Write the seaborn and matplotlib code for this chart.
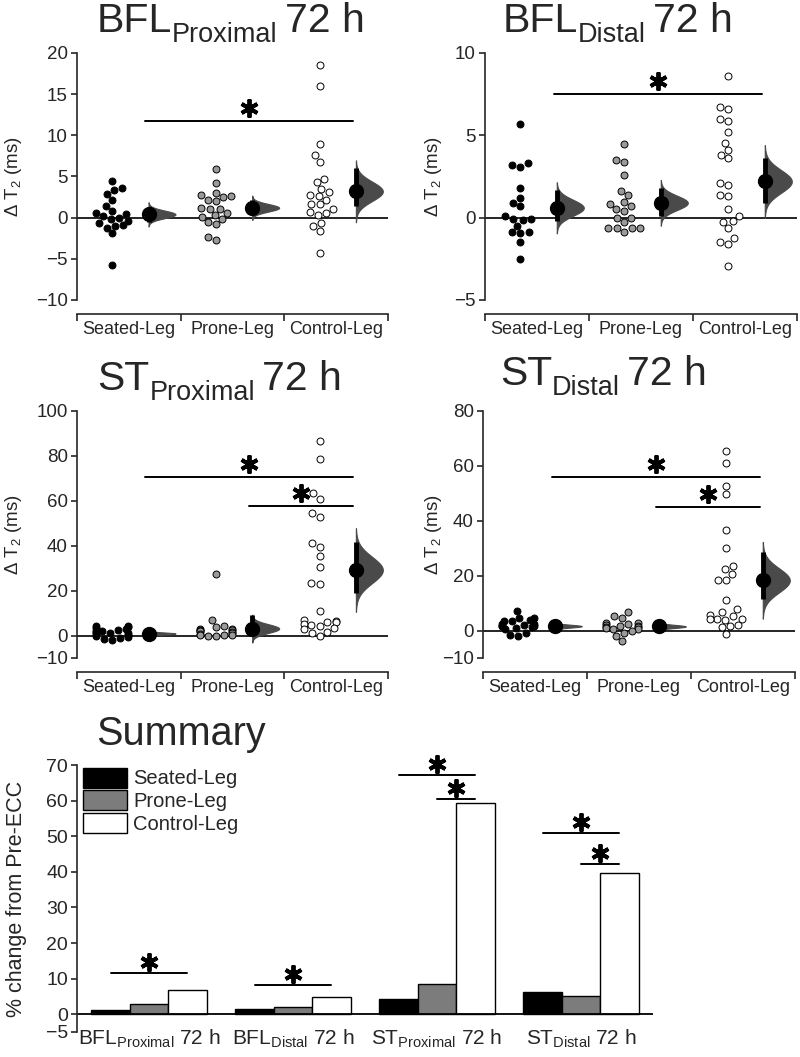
import numpy as np
import pandas as pd
import matplotlib
matplotlib.use('Agg')
import matplotlib.pyplot as plt
from matplotlib.transforms import offset_copy, IdentityTransform
import seaborn as sns

# groups and colours
groups = ['Seated-Leg', 'Prone-Leg', 'Control-Leg']
point_colors = ['black', '#9a9a9a', 'white']
bar_colors = ['black', '#7c7c7c', 'white']

# BFL proximal 72 h, delta T2 (ms)
bflp_seated = [4.4, 3.6, 3.4, 2.9, 2.2, 1.4, 0.8, 0.6, 0.5, 0.2, 0.0, -0.2, -0.4, -0.7, -0.9, -1.0, -1.2, -1.9, -5.7]
bflp_prone = [5.9, 4.2, 3.0, 2.8, 2.6, 2.5, 2.2, 2.0, 1.2, 1.1, 1.0, 0.6, 0.3, 0.1, -0.2, -0.5, -0.8, -2.4, -2.7]
bflp_control = [18.5, 16.0, 9.0, 7.6, 6.8, 4.7, 4.3, 3.5, 3.1, 2.8, 2.6, 2.2, 1.7, 1.6, 1.1, 0.7, 0.6, 0.3, -0.6, -1.0, -1.6, -4.3]
bflp_mean = [0.4, 1.2, 3.2]
bflp_ci_lo = [-0.5, 0.3, 1.4]
bflp_ci_hi = [1.3, 2.1, 6.0]
bflp_sig = [(0, 2, 11.7)]

# BFL distal 72 h
bfld_seated = [5.7, 3.3, 3.2, 3.1, 1.8, 1.2, 0.9, 0.7, 0.1, -0.1, -0.15, -0.1, -0.5, -0.9, -0.95, -0.9, -1.5, -2.5]
bfld_prone = [4.5, 3.5, 3.4, 2.6, 1.6, 1.35, 0.95, 0.85, 0.7, 0.55, 0.4, 0.0, 0.0, -0.25, -0.6, -0.65, -0.65, -0.65, -0.85]
bfld_control = [8.6, 6.7, 6.6, 6.0, 5.9, 5.2, 4.55, 4.1, 3.8, 3.6, 2.1, 2.0, 1.4, 1.3, 0.55, 0.1, -0.2, -0.25, -0.6, -1.25, -1.45, -1.6, -2.95]
bfld_mean = [0.6, 0.9, 2.2]
bfld_ci_lo = [-0.2, 0.1, 0.9]
bfld_ci_hi = [1.7, 1.8, 3.6]
bfld_sig = [(0, 2, 7.5)]

# ST proximal 72 h
stp_seated = [4.4, 4.1, 3.8, 3.4, 3.1, 2.6, 2.2, 1.9, 1.6, 1.2, 1.0, 0.5, 0.2, -0.3, -0.6, -1.0, -1.5, -2.2]
stp_prone = [27.4, 7.0, 4.1, 3.8, 2.9, 2.9, 2.6, 2.4, 1.9, 1.9, 1.5, 1.2, 0.9, 0.4, 0.4, 0.4, 0.0, 0.0]
stp_control = [86.5, 78.8, 63.3, 61.0, 54.7, 52.9, 41.0, 39.3, 35.6, 30.7, 23.6, 23.0, 11.1, 7.1, 6.3, 5.9, 5.9, 5.3, 4.9, 4.4, 3.4, 2.9, 1.5, 1.2, 0.0]
stp_mean = [0.9, 3.1, 29.2]
stp_ci_lo = [0.0, 1.4, 19.0]
stp_ci_hi = [1.8, 9.0, 41.8]
stp_sig = [(0, 2, 70.7), (1, 2, 57.6)]

# ST distal 72 h
std_seated = [7.3, 4.6, 4.5, 4.0, 3.4, 3.3, 2.5, 2.5, 2.0, 1.8, 1.8, 1.6, 1.2, 0.9, 0.4, -0.8, -1.8, -1.9]
std_prone = [6.6, 5.2, 4.6, 2.8, 2.8, 2.5, 2.2, 1.8, 1.8, 1.3, 1.3, 1.0, 0.6, 0.6, -0.2, -0.8, -2.0, -3.9]
std_control = [65.5, 60.9, 52.8, 49.8, 36.7, 29.9, 23.6, 22.4, 20.6, 18.5, 18.4, 11.3, 7.8, 6.6, 5.8, 5.4, 4.2, 4.2, 4.2, 4.0, 2.2, 1.6, 1.3, -1.1]
std_mean = [1.6, 1.5, 18.3]
std_ci_lo = [0.6, 0.4, 11.4]
std_ci_hi = [2.6, 2.6, 28.5]
std_sig = [(0, 2, 56.0), (1, 2, 45.2)]

# summary, % change from Pre-ECC
regions = ['BFL$_{\\mathregular{Proximal}}$ 72 h', 'BFL$_{\\mathregular{Distal}}$ 72 h',
           'ST$_{\\mathregular{Proximal}}$ 72 h', 'ST$_{\\mathregular{Distal}}$ 72 h']
seated_pct = [1.3, 1.5, 4.3, 6.2]
prone_pct = [2.8, 1.9, 8.6, 5.2]
control_pct = [6.7, 4.9, 59.3, 39.6]
# (region, group a, group b, height)
summary_sig = [(0, 0, 2, 11.6), (1, 0, 2, 8.2), (2, 0, 2, 67.2), (2, 1, 2, 60.5),
               (3, 0, 2, 50.8), (3, 1, 2, 42.1)]

sns.set_style('ticks')
plt.rcParams['font.family'] = ['Liberation Sans', 'DejaVu Sans']
plt.rcParams['mathtext.fontset'] = 'custom'
plt.rcParams['mathtext.rm'] = 'Liberation Sans'
plt.rcParams['mathtext.it'] = 'Liberation Sans:italic'
plt.rcParams['mathtext.bf'] = 'Liberation Sans:bold'
plt.rcParams['axes.linewidth'] = 1.2

fig = plt.figure(figsize=(8, 10.57), dpi=100)
W, H = 800.0, 1057.0
renderer = fig.canvas.get_renderer()


def px_axes(x0, x1, ytop, ybot):
    return fig.add_axes([x0 / W, 1 - ybot / H, (x1 - x0) / W, (ybot - ytop) / H])


def star(ax, x, y, dy):
    tr = offset_copy(ax.transData, fig=fig, y=dy, units='dots')
    ax.plot(x, y, marker=(6, 2, 0), ms=13, mew=2.8, color='black', transform=tr, clip_on=False)


def title(x, base, main, sub, rest, size=29.5, sub_size=19.5, drop=10):
    # main text, subscript, rest, placed one after the other (pixel coords)
    for s, fs, dy, gap in [(main, size, 0, 0), (sub, sub_size, drop, 0), (rest, size, 0, 7)]:
        t = fig.text(x + gap, H - base - dy, s, fontsize=fs, va='baseline', ha='left',
                     transform=IdentityTransform())
        x = t.get_window_extent(renderer).x1


def estimation_panel(ax, seated, prone, control, means, ci_lo, ci_hi, ylim, yticks, sig, ylab_x):
    ax.axhline(0, color='black', lw=1.2, zorder=1)

    # swarms drawn on a twin x-axis with a stretched scale, so each swarm stays narrow
    k = 2.6
    sw = ax.twiny()
    for i, vals in enumerate([seated, prone, control]):
        sns.swarmplot(x=[i * k] * len(vals), y=vals, orient='x', native_scale=True,
                      color=point_colors[i], size=5, edgecolor='black', linewidth=0.7,
                      warn_thresh=1, ax=sw, zorder=3)
    sw.set_xlim(-0.34 * k, 2.66 * k)
    sw.set_axis_off()

    # mean, 95% CI and sampling distribution
    for i in range(3):
        x0 = i + 0.35
        sd = (ci_hi[i] - ci_lo[i]) / 3.92
        yy = np.linspace(means[i] - 3.2 * sd, means[i] + 3.2 * sd, 300)
        dens = np.exp(-0.5 * ((yy - means[i]) / sd) ** 2)
        ax.fill_betweenx(yy, x0, x0 + 0.26 * dens, color='#4a4a4a', lw=0.8, zorder=2)
        ax.plot([x0, x0], [ci_lo[i], ci_hi[i]], color='black', lw=3.5,
                solid_capstyle='butt', zorder=4)
        ax.plot(x0, means[i], 'o', color='black', ms=10, zorder=5)

    for a, b, h in sig:
        ax.plot([a + 0.32, b + 0.32], [h, h], color='black', lw=1.4)
        star(ax, (a + b) / 2 + 0.32, h, 13)

    ax.set_xlim(-0.34, 2.66)
    ax.set_ylim(*ylim)
    ax.set_yticks(yticks)
    ax.set_xticks([-0.34, 0.66, 1.66, 2.66])
    ax.set_xticklabels([])
    ax.set_xticks([0.16, 1.16, 2.16], minor=True)
    ax.set_xticklabels(groups, minor=True)
    ax.tick_params(axis='x', which='major', direction='out', length=5, width=1.2)
    ax.tick_params(axis='x', which='minor', length=0, pad=5, labelsize=13)
    ax.tick_params(axis='y', direction='out', length=4.5, width=1.2, labelsize=13.5, pad=2)
    sns.despine(ax=ax)
    ax.spines['bottom'].set_position(('outward', 10))
    ax.set_xlabel('')
    ax.set_ylabel('Δ T$_2$ (ms)', fontsize=13.5)
    ax.yaxis.set_label_coords(ylab_x, 0.5)


ax1 = px_axes(77, 388, 53, 300)
estimation_panel(ax1, bflp_seated, bflp_prone, bflp_control, bflp_mean, bflp_ci_lo, bflp_ci_hi,
                 (-10, 20), [-10, -5, 0, 5, 10, 15, 20], bflp_sig, -0.17)
ax2 = px_axes(485, 797, 53, 300)
estimation_panel(ax2, bfld_seated, bfld_prone, bfld_control, bfld_mean, bfld_ci_lo, bfld_ci_hi,
                 (-5, 10), [-5, 0, 5, 10], bfld_sig, -0.13)
ax3 = px_axes(77, 388, 411, 658)
estimation_panel(ax3, stp_seated, stp_prone, stp_control, stp_mean, stp_ci_lo, stp_ci_hi,
                 (-10, 100), [-10, 0, 20, 40, 60, 80, 100], stp_sig, -0.17)
ax4 = px_axes(483, 795, 411, 658)
estimation_panel(ax4, std_seated, std_prone, std_control, std_mean, std_ci_lo, std_ci_hi,
                 (-10, 80), [-10, 0, 20, 40, 60, 80], std_sig, -0.125)

# panel titles
title(97, 32, 'BFL', 'Proximal', '72 h')
title(503, 32, 'BFL', 'Distal', '72 h')
title(97, 390, 'ST', 'Proximal', '72 h')
title(500, 385, 'ST', 'Distal', '72 h')
fig.text(96 / W, 1 - 745 / H, 'Summary', fontsize=28.5, va='baseline', ha='left')

# summary bars
ax5 = px_axes(77, 653, 765, 1032)
sdf = pd.DataFrame({
    'region': regions * 3,
    'group': [groups[0]] * 4 + [groups[1]] * 4 + [groups[2]] * 4,
    'pct': seated_pct + prone_pct + control_pct,
})
sns.barplot(data=sdf, x='region', y='pct', hue='group', order=regions, hue_order=groups,
            palette=bar_colors, edgecolor='black', linewidth=1.0, width=0.8, gap=0,
            errorbar=None, saturation=1, ax=ax5)
ax5.axhline(0, color='black', lw=1.3)
bw = 0.8 / 3
for r, a, b, h in summary_sig:
    xa = r + (a - 1) * bw
    xb = r + (b - 1) * bw
    ax5.plot([xa, xb], [h, h], color='black', lw=1.4)
    star(ax5, (xa + xb) / 2, h, 11)

ax5.set_xlim(-0.5, 3.5)
ax5.set_ylim(-5, 70)
ax5.set_yticks([-5, 0, 10, 20, 30, 40, 50, 60, 70])
ax5.tick_params(axis='y', direction='out', length=4.5, width=1.2, labelsize=14, pad=2)
ax5.tick_params(axis='x', length=0, labelsize=15, pad=-3)
sns.despine(ax=ax5, bottom=True)
ax5.set_xlabel('')
ax5.set_ylabel('% change from Pre-ECC', fontsize=15.5)
ax5.yaxis.set_label_coords(-0.087, 0.5)

handles, labels = ax5.get_legend_handles_labels()
ax5.legend(handles, labels, loc='upper left', bbox_to_anchor=(0.01, 0.99), frameon=False,
           fontsize=14.5, handlelength=2.2, handleheight=1.15, labelspacing=0.1,
           handletextpad=0.3, borderaxespad=0, borderpad=0)

fig.savefig('out.png', dpi=100)
